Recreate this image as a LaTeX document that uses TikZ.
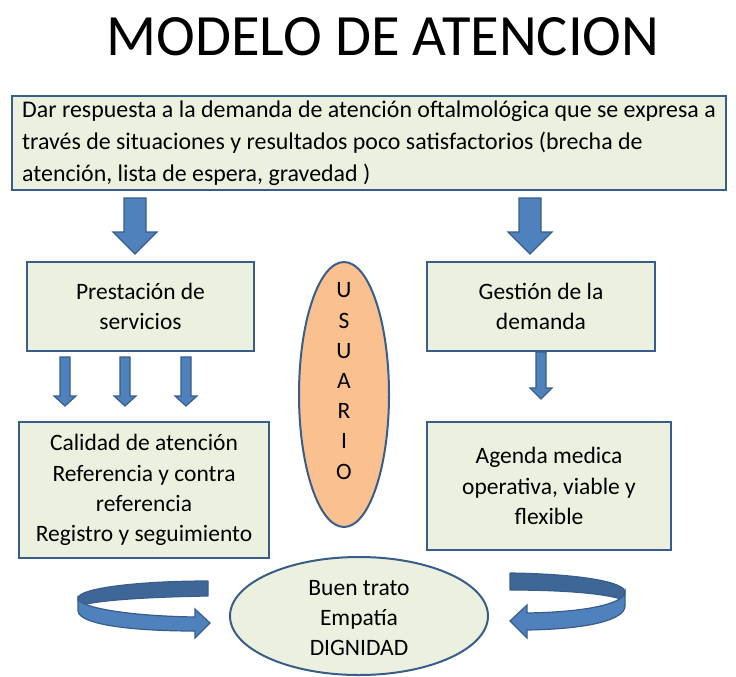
\documentclass[tikz,border=0pt]{standalone}
\usepackage{fontspec}
\setmainfont{Carlito}
\usetikzlibrary{calc,shapes.geometric}
\definecolor{boxfill}{RGB}{235,241,222}
\definecolor{boxline}{RGB}{56,93,138}
\definecolor{arrowfill}{RGB}{79,129,189}
\definecolor{banddark}{RGB}{62,103,152}
\definecolor{peach}{RGB}{250,192,143}
\newcommand\blkarrow[5]{\path[blockarrow] let \p1=#1, \p2=#2 in
  (\x1-#3pt,\y1) -- (\x1+#3pt,\y1) -- (\x1+#3pt,\y2+#5pt) -- (\x1+#4pt,\y2+#5pt)
  -- (\x2,\y2) -- (\x1-#4pt,\y2+#5pt) -- (\x1-#3pt,\y2+#5pt) -- cycle;}
\begin{document}
\begin{tikzpicture}[x=1pt,y=-1pt,
  font=\fontsize{23.5}{30.2}\selectfont,
  box/.style={draw=boxline, line width=2pt, fill=boxfill, align=center, inner sep=0pt},
  oval/.style={draw=boxline, line width=2pt, ellipse, inner sep=0pt},
  blockarrow/.style={draw=boxline, line width=1.2pt, fill=arrowfill, line join=miter},
  bandback/.style={draw=boxline, line width=1.2pt, fill=banddark, line join=round},
  bandfront/.style={draw=boxline, line width=1.2pt, fill=arrowfill, line join=miter}]
\useasboundingbox (0,0) rectangle (736,677);
\node (title) at (383,37) {\fontsize{58.5}{60}\selectfont MODELO DE ATENCION};
\node[box, minimum width=714pt, minimum height=94pt, align=left,
  font=\fontsize{23.9}{32}\selectfont] (top) at (369,143)
  {Dar respuesta a la demanda de atención oftalmológica que se expresa a\\
   través de situaciones y resultados poco satisfactorios (brecha de\\
   atención, lista de espera, gravedad )};
\node[box, minimum width=227pt, minimum height=89pt] (prest) at (140.5,306.5) {Prestación de\\servicios};
\node[box, minimum width=228pt, minimum height=89pt] (gest) at (541,306.5) {Gestión de la\\demanda};
\node[oval, fill=peach, minimum width=90pt, minimum height=265pt] (usuario) at (344,394.5) {};
\node[align=center, inner sep=0pt] (usuariotxt) at (344,381) {U\\S\\U\\A\\R\\I\\O};
\node[box, minimum width=250pt, minimum height=136pt] (calidad) at (144,490)
  {Calidad de atención\\Referencia y contra\\referencia\\Registro y seguimiento};
\node[box, minimum width=244pt, minimum height=128pt] (agenda) at (549,486)
  {Agenda medica\\operativa, viable y\\flexible};
\node[oval, fill=boxfill, minimum width=258pt, minimum height=118pt] (trato) at (359,616) {};
\node[align=center, inner sep=0pt] (tratotxt) at (359,618) {Buen trato\\Empatía\\DIGNIDAD};
% big arrows
\coordinate (a1s) at ($(135,0 |- top.south)+(0,7)$);
\coordinate (a1e) at ($(135,0 |- prest.north)+(0,-7)$);
\coordinate (a2s) at ($(530,0 |- top.south)+(0,7)$);
\coordinate (a2e) at ($(530,0 |- gest.north)+(0,-7)$);
\blkarrow{(a1s)}{(a1e)}{11}{22}{22}
\blkarrow{(a2s)}{(a2e)}{11}{22}{22}
% small arrows
\foreach \xx/\nm in {65/b1,125/b2,186/b3}{
  \coordinate (\nm s) at ($(\xx,0 |- prest.south)+(0,5)$);
  \coordinate (\nm e) at ($(\xx,0 |- calidad.north)+(0,-15)$);
  \blkarrow{(\nm s)}{(\nm e)}{5}{11}{10}
}
\coordinate (c1s) at (541,0 |- gest.south);
\coordinate (c1e) at ($(541,0 |- agenda.north)+(0,-22)$);
\blkarrow{(c1s)}{(c1e)}{5}{11}{11}
% left circular arrow
\path[bandback] (208,581) .. controls (140,581) and (79,588) .. (78,598)
  -- (79,606) .. controls (96,600) and (150,597) .. (208,596) -- cycle;
\path[bandfront] (78,598) .. controls (79,608) and (130,616) .. (195,617) -- (195,609)
  -- (210,623) -- (195,638) -- (195,631) .. controls (128,631) and (79,624) .. (78,611) -- cycle;
% right circular arrow
\path[bandback] (510,573) .. controls (580,574) and (625,582) .. (625,592)
  -- (624,600) .. controls (608,594) and (568,590) .. (510,590) -- cycle;
\path[bandfront] (625,592) .. controls (624,603) and (590,612) .. (527,613) -- (527,605)
  -- (510,621) -- (527,638) -- (527,630) .. controls (592,629) and (625,619) .. (625,606) -- cycle;
\end{tikzpicture}
\end{document}
